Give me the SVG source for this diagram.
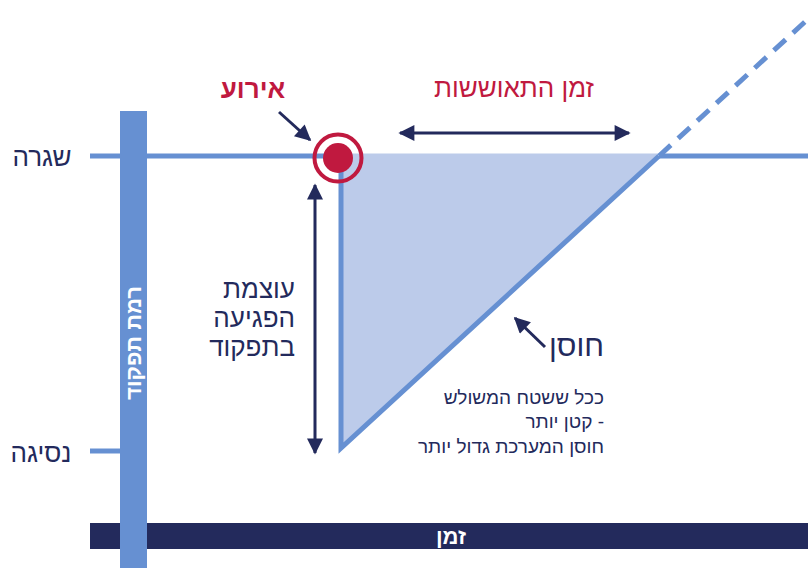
<svg xmlns="http://www.w3.org/2000/svg" width="808" height="568" viewBox="0 0 808 568">
<defs>
<style>
.t{font-family:"Liberation Sans","DejaVu Sans",sans-serif;fill:#232a5c}
.red{fill:#c0193f}
.w{fill:#fff;font-weight:bold}
.blue{stroke:#6690d2;fill:none;stroke-width:5}
.nav{stroke:#232a5c;stroke-width:3;fill:none}
</style>
<marker id="a2" viewBox="0 0 10 10" refX="9" refY="5" markerWidth="18" markerHeight="16" orient="auto-start-reverse" markerUnits="userSpaceOnUse">
<path d="M0,0 L10,5 L0,10 Z" fill="#232a5c"/>
</marker>
</defs>
<rect width="808" height="568" fill="#fff"/>
<g id="area">
<polygon points="341,153.5 659,153.5 341,448" fill="#bccbea"/>
</g>
<g id="connectors">
<line class="blue" x1="90" y1="156" x2="341" y2="156"/>
<line class="blue" x1="659" y1="156" x2="808" y2="156"/>
<line class="blue" x1="90" y1="451" x2="122" y2="451"/>
<polyline class="blue" points="341,170 341,448 659,156"/>
<line class="blue" x1="659" y1="156" x2="808" y2="19" stroke-dasharray="16,10"/>
<line class="nav" x1="400" y1="133" x2="629" y2="133" marker-start="url(#a2)" marker-end="url(#a2)"/>
<line class="nav" x1="315" y1="185" x2="315" y2="453" marker-start="url(#a2)" marker-end="url(#a2)"/>
<line class="nav" x1="279" y1="112" x2="310" y2="140" stroke-width="4" marker-end="url(#a2)"/>
<line class="nav" x1="545" y1="347" x2="515" y2="318" stroke-width="4" marker-end="url(#a2)"/>
</g>
<g id="event">
<circle cx="338" cy="158" r="23.5" fill="none" stroke="#c0193f" stroke-width="4"/>
<circle cx="338" cy="158" r="15" fill="#c0193f"/>
</g>
<g id="yaxis">
<rect x="120" y="111" width="27" height="457" fill="#6690d2"/>
<text class="t w" transform="translate(141,343) rotate(-90)" text-anchor="middle" font-size="22">רמת תפקוד</text>
</g>
<g id="xaxis">
<rect x="90" y="523" width="718" height="26" fill="#232a5c"/>
<rect x="120" y="523" width="27" height="26" fill="#6690d2"/>
<text class="t w" x="451" y="544" text-anchor="middle" font-size="22">זמן</text>
</g>
<g id="labels">
<text class="t" x="42" y="166" text-anchor="middle" font-size="26">שגרה</text>
<text class="t" x="41" y="462" text-anchor="middle" font-size="26">נסיגה</text>
<text class="t red" x="253" y="98" text-anchor="middle" font-size="26" font-weight="bold">אירוע</text>
<text class="t red" x="514" y="97" text-anchor="middle" font-size="26">זמן התאוששות</text>
<text class="t" font-size="26" text-anchor="end"><tspan x="295" y="298">עוצמת</tspan><tspan x="295" y="327">הפגיעה</tspan><tspan x="295" y="356">בתפקוד</tspan></text>
<text class="t" x="604" y="356" text-anchor="end" font-size="30">חוסן</text>
<text class="t" font-size="19" text-anchor="end"><tspan x="604" y="404">ככל ששטח המשולש</tspan><tspan x="604" y="428">קטן יותר -</tspan><tspan x="604" y="453">חוסן המערכת גדול יותר</tspan></text>
</g>
</svg>
